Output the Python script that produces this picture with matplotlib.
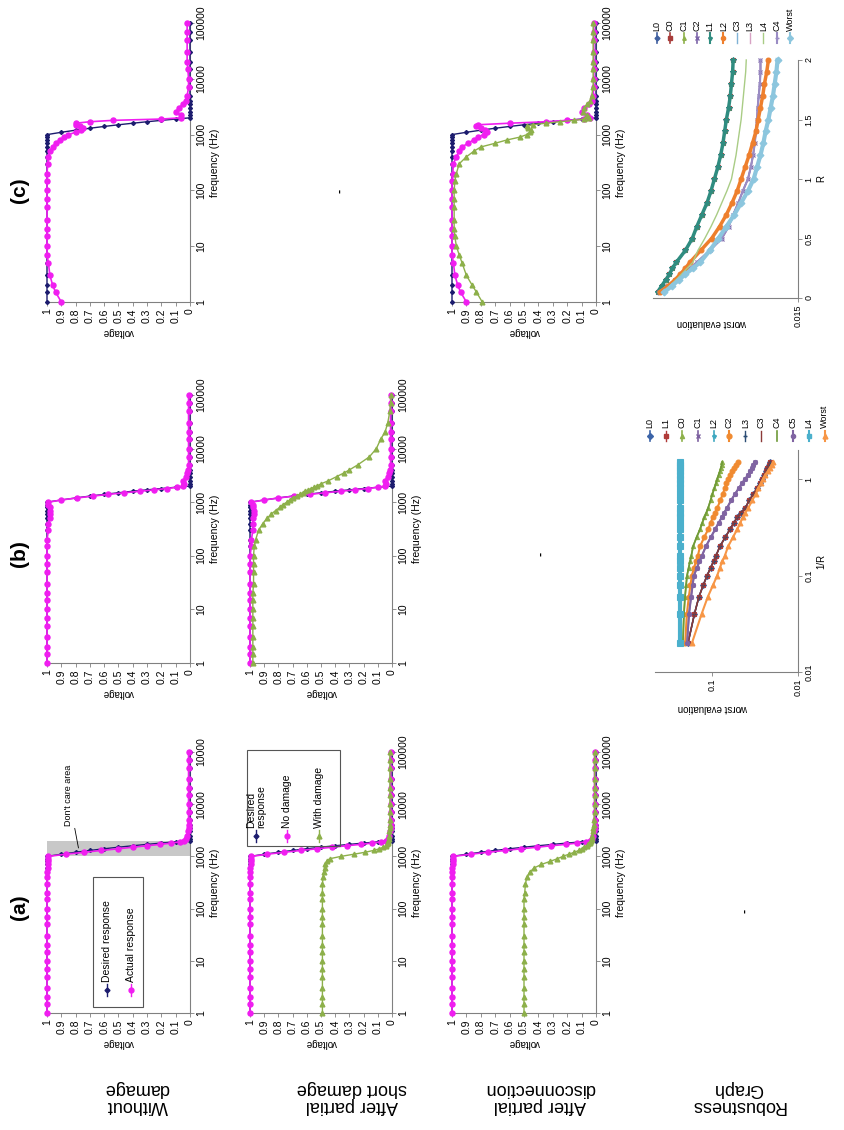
import matplotlib
matplotlib.use("Agg")
import matplotlib.pyplot as plt
from matplotlib.lines import Line2D
from matplotlib.patches import Rectangle
from matplotlib.ticker import NullLocator

plt.rcParams.update({
    "font.family": ["Liberation Sans", "DejaVu Sans"],
    "font.size": 7,
    "axes.linewidth": 0.8,
})

W, H = 845, 1130

# ---------------------------------------------------------------- data
FREQ = [1, 1.5, 2, 3, 5, 7,
        10, 15, 20, 30, 50, 70,
        100, 150, 200, 300, 400, 500, 600, 700, 800, 900,
        1000, 1100, 1200, 1300, 1400, 1500, 1600, 1700, 1800, 1900,
        2000, 2200, 2500, 3000, 3500, 4000, 5000, 7000,
        10000, 15000, 20000, 30000, 50000, 70000, 100000]

DESIRED = [1, 1, 1, 1, 1, 1,
           1, 1, 1, 1, 1, 1,
           1, 1, 1, 1, 1, 1, 1, 1, 1, 1,
           1, 0.9, 0.8, 0.7, 0.6, 0.5, 0.4, 0.3, 0.2, 0.1,
           0, 0, 0, 0, 0, 0, 0, 0,
           0, 0, 0, 0, 0, 0, 0]

# column (a)
A_WITHOUT = [1, 1, 1, 1, 1, 1,
             1, 1, 1, 1, 1, 1,
             1, 1, 1, 1, 1, 1, 0.99, 0.99, 0.99, 0.99,
             0.99, 0.87, 0.74, 0.62, 0.5, 0.4, 0.3, 0.21, 0.13, 0.07,
             0.04, 0.03, 0.02, 0.015, 0.01, 0.01, 0.01, 0.01,
             0.01, 0.01, 0.01, 0.01, 0.01, 0.01, 0.01]
A_SHORT_OK = [1, 1, 1, 1, 1, 1,
              1, 1, 1, 1, 1, 1,
              1, 1, 1, 1, 1, 1, 1, 0.99, 0.99, 0.99,
              0.99, 0.88, 0.76, 0.64, 0.53, 0.42, 0.32, 0.22, 0.14, 0.08,
              0.04, 0.03, 0.02, 0.015, 0.01, 0.01, 0.01, 0.01,
              0.01, 0.01, 0.01, 0.01, 0.01, 0.01, 0.01]
A_SHORT_DMG = [0.49, 0.49, 0.49, 0.49, 0.49, 0.49,
               0.49, 0.49, 0.49, 0.49, 0.49, 0.49,
               0.49, 0.49, 0.49, 0.49, 0.485, 0.48, 0.475, 0.47, 0.46, 0.44,
               0.36, 0.27, 0.19, 0.13, 0.09, 0.06, 0.045, 0.035, 0.03, 0.025,
               0.025, 0.02, 0.02, 0.02, 0.015, 0.015, 0.015, 0.015,
               0.015, 0.015, 0.015, 0.015, 0.015, 0.015, 0.015]
A_DISC_OK = [1, 1, 1, 1, 1, 1,
             1, 1, 1, 1, 1, 1,
             1, 1, 1, 1, 1, 1, 1, 0.99, 0.99, 0.99,
             0.99, 0.87, 0.75, 0.63, 0.52, 0.41, 0.31, 0.21, 0.13, 0.07,
             0.04, 0.03, 0.02, 0.015, 0.01, 0.01, 0.01, 0.01,
             0.01, 0.01, 0.01, 0.01, 0.01, 0.01, 0.01]
A_DISC_DMG = [0.5, 0.5, 0.5, 0.5, 0.5, 0.5,
              0.5, 0.5, 0.5, 0.5, 0.5, 0.5,
              0.5, 0.5, 0.495, 0.49, 0.48, 0.46, 0.43, 0.38, 0.32, 0.27,
              0.23, 0.19, 0.15, 0.12, 0.1, 0.08, 0.065, 0.055, 0.045, 0.04,
              0.035, 0.03, 0.025, 0.02, 0.02, 0.015, 0.015, 0.01,
              0.01, 0.01, 0.01, 0.01, 0.01, 0.01, 0.01]

# column (b)
B_WITHOUT = [1, 1, 1, 1, 1, 1,
             1, 1, 1, 1, 1, 1,
             1, 1, 1, 0.99, 0.99, 0.98, 0.98, 0.98, 0.98, 0.99,
             0.99, 0.9, 0.79, 0.68, 0.57, 0.46, 0.35, 0.25, 0.16, 0.09,
             0.05, 0.04, 0.05, 0.03, 0.02, 0.015, 0.01, 0.01,
             0.01, 0.01, 0.01, 0.01, 0.01, 0.01, 0.01]
B_SHORT_OK = [1, 1, 1, 1, 1, 1,
              1, 1, 1, 1, 1, 1,
              1, 0.99, 0.99, 0.98, 0.98, 0.98, 0.97, 0.97, 0.98, 0.98,
              0.99, 0.9, 0.8, 0.69, 0.58, 0.47, 0.36, 0.26, 0.17, 0.1,
              0.05, 0.04, 0.05, 0.03, 0.02, 0.015, 0.01, 0.01,
              0.01, 0.01, 0.01, 0.01, 0.01, 0.01, 0.01]
B_SHORT_DMG = [0.98, 0.98, 0.98, 0.98, 0.98, 0.98,
               0.98, 0.98, 0.98, 0.975, 0.975, 0.975,
               0.975, 0.97, 0.96, 0.94, 0.91, 0.88, 0.85, 0.82, 0.79, 0.77,
               0.74, 0.72, 0.7, 0.67, 0.65, 0.63, 0.61, 0.59, 0.57, 0.55,
               0.53, 0.5, 0.45, 0.39, 0.34, 0.3, 0.24, 0.16,
               0.11, 0.08, 0.05, 0.03, 0.015, 0.01, 0.005]

# column (c)
C_WITHOUT = [0.9, 0.94, 0.96, 0.98, 0.99, 1,
             1, 1, 1, 1, 1, 1,
             1, 1, 1, 0.995, 0.99, 0.98, 0.96, 0.94, 0.91, 0.88,
             0.85, 0.8, 0.76, 0.75, 0.77, 0.8, 0.8, 0.7, 0.54, 0.2,
             0.06, 0.06, 0.1, 0.08, 0.05, 0.03, 0.02, 0.01,
             0.01, 0.015, 0.02, 0.02, 0.02, 0.02, 0.02]
C_DISC_OK = [0.9, 0.94, 0.96, 0.98, 0.99, 1,
             1, 1, 1, 1, 1, 1,
             1, 1, 0.995, 0.99, 0.97, 0.95, 0.93, 0.89, 0.85, 0.82,
             0.78, 0.76, 0.77, 0.8, 0.83, 0.82, 0.6, 0.35, 0.2, 0.08,
             0.04, 0.06, 0.1, 0.08, 0.05, 0.03, 0.02, 0.015,
             0.015, 0.015, 0.015, 0.015, 0.015, 0.015, 0.015]
C_DISC_DMG = [0.79, 0.83, 0.86, 0.9, 0.93, 0.95,
              0.97, 0.98, 0.985, 0.985, 0.985, 0.985,
              0.985, 0.98, 0.97, 0.95, 0.9, 0.85, 0.8, 0.7, 0.62, 0.53,
              0.48, 0.46, 0.45, 0.47, 0.48, 0.44, 0.35, 0.25, 0.15, 0.08,
              0.05, 0.06, 0.09, 0.08, 0.06, 0.04, 0.03, 0.02,
              0.02, 0.02, 0.02, 0.02, 0.02, 0.02, 0.02]

FREQ_TICKS = [1, 10, 100, 1000, 10000, 100000]
FREQ_LABELS = ["1", "10", "100", "1000", "10000", "100000"]
FREQ_LABELS_A0 = ["1", "10", "100", "1000", "10000", "10000"]
VOLT_TICKS = [1, 0.9, 0.8, 0.7, 0.6, 0.5, 0.4, 0.3, 0.2, 0.1, 0]
VOLT_LABELS = ["1", "0.9", "0.8", "0.7", "0.6", "0.5", "0.4", "0.3", "0.2", "0.1", "0"]

# robustness vs R (column c)
R_VALS = [0.05, 0.1, 0.15, 0.2, 0.25, 0.3, 0.4, 0.5, 0.6, 0.7, 0.8, 0.9,
          1.0, 1.1, 1.2, 1.3, 1.4, 1.5, 1.6, 1.7, 1.8, 1.9, 2.0]
RC_TEAL = [0.0397, 0.039, 0.0383, 0.0376, 0.0371, 0.0364, 0.0348, 0.0336, 0.0328, 0.0319, 0.031, 0.0303,
           0.0297, 0.0291, 0.0286, 0.0282, 0.0279, 0.0276, 0.0272, 0.0269, 0.0267, 0.0265, 0.0264]
RC_GREEN = [0.0388, 0.0376, 0.0365, 0.0355, 0.0345, 0.0335, 0.0326, 0.0314, 0.0303, 0.0293, 0.0284, 0.0275,
            0.0267, 0.0263, 0.0259, 0.0256, 0.0253, 0.025, 0.0248, 0.0246, 0.0244, 0.0242, 0.0241]
RC_ORANGE = [0.0393, 0.0379, 0.0367, 0.0357, 0.0348, 0.034, 0.0321, 0.0302, 0.0288, 0.0276, 0.0266, 0.0257,
             0.025, 0.0243, 0.0236, 0.023, 0.0224, 0.022, 0.0216, 0.0212, 0.0209, 0.0205, 0.0202]
RC_PURPLE = [0.0395, 0.0381, 0.0367, 0.0353, 0.034, 0.0328, 0.0305, 0.0284, 0.0272, 0.0264, 0.0255, 0.0247,
             0.0238, 0.0233, 0.0229, 0.0226, 0.0224, 0.0222, 0.0221, 0.0219, 0.0217, 0.0216, 0.0216]
RC_WORST = [0.0385, 0.0372, 0.036, 0.0348, 0.0335, 0.0322, 0.0305, 0.029, 0.0276, 0.0262, 0.025, 0.0238,
            0.0228, 0.0222, 0.0216, 0.0211, 0.0207, 0.0202, 0.0198, 0.0194, 0.0191, 0.0188, 0.0186]

# robustness vs 1/R (column b)
RINV_VALS = [0.02, 0.04, 0.06, 0.08, 0.1, 0.12, 0.14, 0.16, 0.2, 0.25, 0.3, 0.35, 0.4,
             0.45, 0.5, 0.6, 0.7, 0.8, 0.9, 1.0, 1.1, 1.2, 1.3, 1.4, 1.5]
RB_FLAT = [0.236, 0.236, 0.236, 0.236, 0.236, 0.236, 0.236, 0.236, 0.236, 0.236, 0.236, 0.236, 0.236,
           0.236, 0.236, 0.236, 0.236, 0.236, 0.236, 0.236, 0.236, 0.236, 0.236, 0.236, 0.236]
RB_GREEN = [0.218, 0.212, 0.206, 0.2, 0.195, 0.187, 0.18, 0.174, 0.166, 0.151, 0.138, 0.13, 0.123,
            0.116, 0.111, 0.104, 0.099, 0.094, 0.09, 0.087, 0.084, 0.081, 0.079, 0.077, 0.076]
RB_ORANGE = [0.205, 0.196, 0.186, 0.178, 0.171, 0.162, 0.153, 0.146, 0.138, 0.123, 0.111, 0.104, 0.098,
             0.092, 0.087, 0.08, 0.075, 0.071, 0.068, 0.065, 0.061, 0.058, 0.055, 0.052, 0.0498]
RB_PURPLE = [0.195, 0.185, 0.175, 0.168, 0.162, 0.15, 0.14, 0.131, 0.118, 0.103, 0.092, 0.084, 0.077,
             0.072, 0.067, 0.06, 0.054, 0.049, 0.045, 0.0413, 0.038, 0.036, 0.034, 0.033, 0.0316]
RB_NAVY = [0.19, 0.16, 0.142, 0.126, 0.114, 0.104, 0.096, 0.09, 0.081, 0.07, 0.062, 0.056, 0.051,
           0.046, 0.041, 0.037, 0.033, 0.03, 0.028, 0.0262, 0.025, 0.0238, 0.0228, 0.022, 0.0212]
RB_WORST = [0.171, 0.132, 0.112, 0.097, 0.087, 0.081, 0.076, 0.071, 0.065, 0.057, 0.051, 0.047, 0.044,
            0.041, 0.038, 0.034, 0.031, 0.029, 0.027, 0.0255, 0.024, 0.0225, 0.0213, 0.0203, 0.0195]

# ---------------------------------------------------------------- styles
NAVY, PINK, GREEN = "#1c1c6e", "#f01ef0", "#8db04a"
AX_GREY = "#808080"
STYLE = {
    "desired": dict(color=NAVY, marker="D", ms=2.0, lw=1.0, zorder=3),
    "actual": dict(color=PINK, marker="o", ms=3.6, lw=1.2, zorder=4),
    "damage": dict(color=GREEN, marker="^", ms=3.4, lw=1.0, zorder=5),
}

ROB_C = [  # name, values, color, marker, lw, ms
    ("L0", RC_TEAL, "#3f5f9f", "D", 1.2, 2.5),
    ("C0", RC_TEAL, "#a83c3a", "s", 1.2, 2.5),
    ("C1", RC_TEAL, "#8db04a", "^", 1.2, 2.5),
    ("C2", RC_PURPLE, "#7b63a8", "x", 1.2, 2.5),
    ("L1", RC_TEAL, "#2f8c80", "*", 2.5, 4.0),
    ("L2", RC_ORANGE, "#ee7f2d", "o", 2.5, 3.5),
    ("C3", RC_WORST, "#7fb2d6", None, 1.0, 0),
    ("L3", RC_PURPLE, "#d7a3c4", None, 1.0, 0),
    ("L4", RC_GREEN, "#a9cc85", None, 1.0, 0),
    ("C4", RC_PURPLE, "#9a8cc4", "+", 1.5, 3.0),
    ("Worst", RC_WORST, "#8cc6de", "D", 3.0, 3.5),
]
ROB_C_ORDER = ["L0", "C0", "C1", "L1", "L3", "C2", "C4", "L2", "L4", "C3", "Worst"]

ROB_B = [
    ("L0", RB_NAVY, "#3c64a8", "D", 1.2, 3.0),
    ("L1", RB_NAVY, "#b03a38", "s", 1.0, 3.0),
    ("C0", RB_GREEN, "#8db04a", "^", 1.2, 3.0),
    ("C1", RB_PURPLE, "#7d60a0", "x", 1.2, 3.0),
    ("L2", RB_FLAT, "#3fa8c0", "*", 1.2, 3.0),
    ("C2", RB_ORANGE, "#f08a30", "o", 1.5, 3.5),
    ("L3", RB_NAVY, "#2c4d75", "+", 1.0, 3.0),
    ("C3", RB_NAVY, "#8b3a38", None, 1.0, 0),
    ("C4", RB_GREEN, "#6e9a38", None, 1.2, 0),
    ("C5", RB_PURPLE, "#8064a2", "o", 1.5, 3.0),
    ("L4", RB_FLAT, "#4bb0cc", "s", 3.0, 4.0),
    ("Worst", RB_WORST, "#f79646", "^", 1.5, 3.5),
]


def fx(x):
    return x / W


def fy(y):
    return 1 - y / H


def rect(x0, x1, y0, y1):
    return [x0 / W, 1 - y1 / H, (x1 - x0) / W, (y1 - y0) / H]


fig = plt.figure(figsize=(W / 100, H / 100), dpi=100)


def style_axes(ax):
    ax.patch.set_visible(False)
    for side in ("left", "top"):
        ax.spines[side].set_visible(False)
    for side in ("right", "bottom"):
        ax.spines[side].set_color(AX_GREY)
        ax.spines[side].set_linewidth(0.8)
    ax.yaxis.tick_right()
    ax.yaxis.set_label_position("right")
    ax.tick_params(colors=AX_GREY, labelcolor="black", length=3, width=0.6, pad=1.5)
    ax.tick_params(which="minor", length=0)


def freq_panel(x0, x1, y0, y1, curves, flabels=FREQ_LABELS, gray=False):
    ax = fig.add_axes(rect(x0, x1, y0, y1))
    style_axes(ax)
    if gray:
        ax.axhspan(1000, 2000, color="#c8c8c8", lw=0, zorder=0)
    for vals, key in curves:
        ax.plot(vals, FREQ, clip_on=False, **STYLE[key])
    ax.set_yscale("log")
    ax.set_ylim(1, 1e5)
    ax.set_xlim(1, 0)
    ax.set_yticks(FREQ_TICKS)
    ax.set_yticklabels(flabels, rotation=90, va="center", fontsize=7.5)
    ax.yaxis.set_minor_locator(NullLocator())
    ax.set_xticks(VOLT_TICKS)
    ax.set_xticklabels(VOLT_LABELS, rotation=90, fontsize=7.5)
    ax.set_xlabel("voltage", rotation=180, fontsize=7, labelpad=3)
    ax.set_ylabel("frequency (Hz)", rotation=90, fontsize=7.5, labelpad=3)
    return ax


def legend_entry(x, ym, yt, label, color, marker, ms=3, lw=1.0, seg=12, fs=7.5):
    fig.add_artist(Line2D([fx(x), fx(x)], [fy(ym + seg / 2), fy(ym - seg / 2)],
                          transform=fig.transFigure, color=color, lw=lw))
    if marker:
        fig.add_artist(Line2D([fx(x)], [fy(ym)], transform=fig.transFigure, color=color,
                              marker=marker, ms=ms, lw=0))
    fig.text(fx(x), fy(yt), label, rotation=90, ha="center", va="bottom",
             fontsize=fs, multialignment="left", linespacing=1.0)


def frame(x0, x1, y0, y1):
    fig.add_artist(Rectangle((fx(x0), fy(y1)), (x1 - x0) / W, (y1 - y0) / H,
                             transform=fig.transFigure, fill=False, ec="#555555", lw=0.8))


# ---------------------------------------------------------------- voltage panels
ROWS_X = {"without": (47, 190), "short": (250, 392), "disc": (452, 596), "robust": (653, 798)}
COLS_Y = {"a": (752, 1013), "b": (395, 663), "c": (23, 302)}

ax = freq_panel(*ROWS_X["without"], *COLS_Y["a"],
                [(DESIRED, "desired"), (A_WITHOUT, "actual")], flabels=FREQ_LABELS_A0, gray=True)
ax.annotate("Don't care area", xy=(0.78, 1450), xytext=(0.85, 3900),
            rotation=90, ha="center", va="bottom", fontsize=6.5,
            arrowprops=dict(arrowstyle="-", color="black", lw=0.6, shrinkA=0, shrinkB=0))
freq_panel(*ROWS_X["short"], *COLS_Y["a"],
           [(DESIRED, "desired"), (A_SHORT_OK, "actual"), (A_SHORT_DMG, "damage")])
freq_panel(*ROWS_X["disc"], *COLS_Y["a"],
           [(DESIRED, "desired"), (A_DISC_OK, "actual"), (A_DISC_DMG, "damage")])

freq_panel(*ROWS_X["without"], *COLS_Y["b"],
           [(DESIRED, "desired"), (B_WITHOUT, "actual")])
freq_panel(*ROWS_X["short"], *COLS_Y["b"],
           [(DESIRED, "desired"), (B_SHORT_OK, "actual"), (B_SHORT_DMG, "damage")])

freq_panel(*ROWS_X["without"], *COLS_Y["c"],
           [(DESIRED, "desired"), (C_WITHOUT, "actual")])
freq_panel(*ROWS_X["disc"], *COLS_Y["c"],
           [(DESIRED, "desired"), (C_DISC_OK, "actual"), (C_DISC_DMG, "damage")])

# legends drawn in the rotated orientation
frame(93, 143, 877, 1007)
legend_entry(107, 990, 982, "Desired response", NAVY, "D", ms=2.5)
legend_entry(131, 990, 982, "Actual response", PINK, "o", ms=3.5)

frame(247, 340, 750, 846)
legend_entry(256, 836, 828, "Desired\nresponse", NAVY, "D", ms=2.5)
legend_entry(287, 836, 828, "No damage", PINK, "o", ms=3.5)
legend_entry(319, 836, 828, "With damage", GREEN, "^", ms=3.5)

# ---------------------------------------------------------------- robustness vs R
axr = fig.add_axes(rect(653, 798, 60, 298))
style_axes(axr)
styles_c = {s[0]: s for s in ROB_C}
for name in ROB_C_ORDER:
    _, vals, col, mk, lw, ms = styles_c[name]
    axr.plot(vals, R_VALS, color=col, marker=mk, lw=lw, ms=ms, mew=0.8, clip_on=False)
axr.set_xlim(0.0405, 0.015)
axr.set_ylim(0, 2)
axr.set_yticks([0, 0.5, 1, 1.5, 2])
axr.set_yticklabels(["0", "0.5", "1", "1.5", "2"], rotation=90, va="center", fontsize=6.5)
axr.set_xticks([0.015])
axr.set_xticklabels(["0.015"], rotation=90, fontsize=6.5)
axr.set_ylabel("R", rotation=90, fontsize=7, labelpad=2)
fig.text(fx(712), fy(323), "worst evaluation", rotation=180, ha="center", va="center", fontsize=7)
for i, (name, vals, col, mk, lw, ms) in enumerate(ROB_C):
    legend_entry(657 + i * 13.3, 38, 31, name, col, mk, ms=min(ms, 3) if mk else 0,
                 lw=min(lw, 1.5), seg=10, fs=6.5)

# ---------------------------------------------------------------- robustness vs 1/R
axb = fig.add_axes(rect(655, 798, 450, 672))
style_axes(axb)
for name, vals, col, mk, lw, ms in ROB_B:
    axb.plot(vals, RINV_VALS, color=col, marker=mk, lw=lw, ms=ms, mew=0.8, clip_on=False)
axb.set_xscale("log")
axb.set_yscale("log")
axb.set_xlim(0.46, 0.01)
axb.set_ylim(0.01, 2)
axb.xaxis.set_minor_locator(NullLocator())
axb.yaxis.set_minor_locator(NullLocator())
axb.set_xticks([0.1, 0.01])
axb.set_xticklabels(["0.1", "0.01"], rotation=90, fontsize=6.5)
axb.set_yticks([0.01, 0.1, 1])
axb.set_yticklabels(["0.01", "0.1", "1"], rotation=90, va="center", fontsize=6.5)
axb.set_ylabel("1/R", rotation=90, fontsize=7, labelpad=2)
fig.text(fx(713), fy(708), "worst evaluation", rotation=180, ha="center", va="center", fontsize=7)
for i, (name, vals, col, mk, lw, ms) in enumerate(ROB_B):
    legend_entry(650 + i * 15.9, 436, 428, name, col, mk, ms=min(ms, 3.5) if mk else 0,
                 lw=min(lw, 1.5), seg=10, fs=6.5)

# ---------------------------------------------------------------- labels
for lab, y in (("(a)", 907), ("(b)", 554), ("(c)", 190)):
    fig.text(fx(20), fy(y), lab, rotation=90, ha="center", va="center",
             fontsize=15, fontweight="bold")

ROW_LABELS = [("Without\ndamage", 137), ("After partial\nshort damage", 352),
              ("After partial\ndisconnection", 540), ("Robustness\nGraph", 738)]
for text, x in ROW_LABELS:
    fig.text(fx(x), fy(1097), text, rotation=180, ha="center", va="center",
             fontsize=13, multialignment="center", linespacing=1.05)

# small stray marks in the empty cells
for x, y in ((340, 191), (541, 554), (745, 911)):
    fig.text(fx(x), fy(y), "-", rotation=90, ha="center", va="center",
             fontsize=9, fontweight="bold")

fig.savefig("out.png", dpi=100)
